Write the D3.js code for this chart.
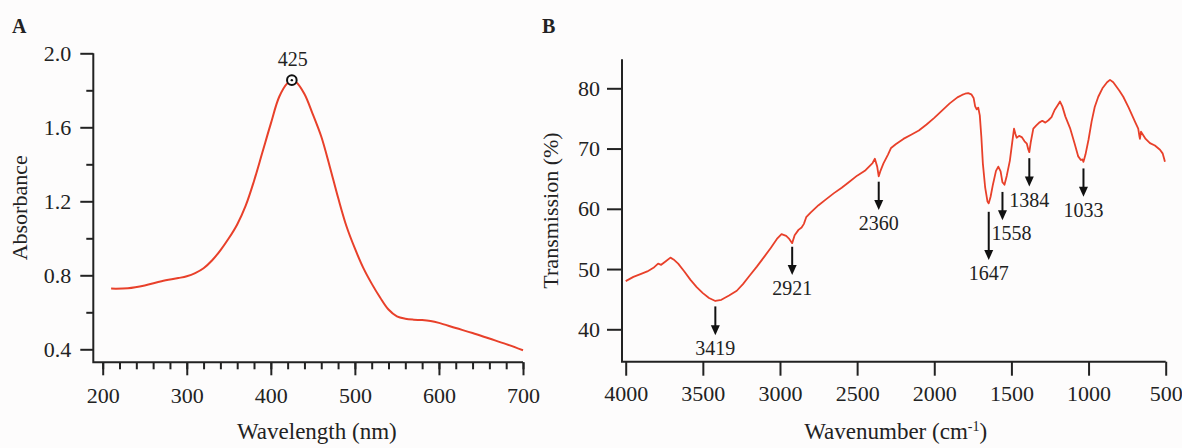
<!DOCTYPE html>
<html><head><meta charset="utf-8">
<script src="https://cdn.jsdelivr.net/npm/d3@7"></script>
<style>
body{margin:0;background:#fdfcfc}
svg{display:block}
text{font-family:"Liberation Serif","Times New Roman",serif;fill:#222}
</style>
</head><body><svg id="c" width="1182" height="448"></svg>
<script>
// ---------- Panel A: UV-Vis ----------
const uvWavelength = [210,230,250,270,290,300,310,320,330,340,350,360,370,380,390,400,410,420,425,430,440,450,460,470,480,490,500,510,520,530,540,550,560,570,580,590,600,620,640,660,680,700];
const uvAbsorbance = [0.728,0.730,0.745,0.768,0.785,0.795,0.812,0.838,0.880,0.935,1.000,1.075,1.175,1.310,1.465,1.620,1.765,1.840,1.855,1.845,1.780,1.670,1.550,1.390,1.220,1.065,0.945,0.840,0.755,0.680,0.615,0.578,0.565,0.560,0.558,0.553,0.543,0.515,0.488,0.458,0.428,0.395];
const uvPeak = {wavelength:425, absorbance:1.855, label:"425"};
const uvXTicks = [200,300,400,500,600,700];
const uvYTicks = [0.4,0.8,1.2,1.6,2.0];

// ---------- Panel B: FTIR ----------
const irWavenumber = [4000,3950,3900,3860,3820,3790,3770,3740,3710,3690,3660,3620,3580,3540,3500,3460,3419,3380,3330,3280,3240,3200,3150,3100,3060,3020,2990,2960,2940,2921,2905,2880,2860,2845,2830,2800,2750,2700,2650,2600,2550,2500,2450,2400,2385,2370,2360,2350,2330,2300,2280,2250,2200,2150,2100,2050,2000,1950,1900,1850,1820,1800,1780,1760,1745,1735,1725,1715,1705,1695,1685,1670,1655,1647,1635,1620,1600,1585,1570,1558,1545,1530,1510,1495,1483,1475,1466,1450,1433,1415,1400,1390,1384,1375,1358,1340,1320,1300,1280,1260,1240,1220,1200,1185,1170,1150,1120,1090,1067,1050,1040,1033,1020,1000,980,960,937,910,880,861,840,800,775,740,700,678,670,667,660,630,602,570,537,520,510,505];
const irTransmission = [48.0,48.7,49.2,49.6,50.2,50.9,50.7,51.3,51.9,51.6,50.9,49.6,48.2,47.0,46.0,45.2,44.7,44.9,45.6,46.4,47.5,48.8,50.4,52.1,53.5,55.0,55.8,55.5,55.0,54.3,55.6,56.5,56.9,57.5,58.6,59.4,60.6,61.6,62.6,63.5,64.5,65.5,66.3,67.6,68.3,67.0,65.4,66.2,67.5,69.0,70.1,70.7,71.6,72.3,73.0,74.0,75.1,76.3,77.5,78.5,78.9,79.1,79.2,79.0,78.4,77.0,76.5,76.8,75.5,72.0,67.5,63.5,61.2,60.9,62.0,64.0,66.3,67.0,66.2,64.4,64.0,65.5,68.0,71.0,73.3,72.5,71.8,72.1,71.9,71.2,70.8,69.8,69.4,71.0,73.3,73.8,74.3,74.6,74.3,74.7,75.2,76.4,77.2,77.8,77.0,75.3,73.4,70.8,68.7,68.1,68.2,67.8,69.0,71.5,74.5,76.9,78.6,80.0,81.0,81.4,81.0,79.6,78.6,76.8,74.5,73.3,72.0,71.6,72.8,71.6,70.9,70.5,69.8,69.2,68.3,67.8];
const irXTicks = [4000,3500,3000,2500,2000,1500,1000,500];
const irYTicks = [40,50,60,70,80];
// annotated bands: wavenumber, arrow start / end (transmission %)
const irBands     = [3419,2921,2360,1647,1558,1384,1033];
const irArrowFrom = [43.8,53.7,64.5,59.5,62.8,68.4,66.7];
const irArrowTo   = [39.0,49.0,59.8,51.5,58.1,63.7,62.0];

const svg = d3.select("#c");
svg.append("rect").attr("width",1182).attr("height",448).attr("fill","#fdfcfc");
const AX = "#222", LINE = "#e8402a";

function styleAxis(g){
  g.select(".domain").remove();
  g.selectAll(".tick line").attr("stroke",AX).attr("stroke-width",2);
  g.selectAll(".tick text").style("font-family",'"Liberation Serif",serif').style("font-size","22px").attr("fill","#222");
}

// ===== Panel A =====
const xA = d3.scaleLinear([200,700],[102.7,523]);
const yA = d3.scaleLinear([0.4,2.0],[349.3,53.3]);
const axA = 93.3, ayA = 362.3;
const gA = svg.append("g");
gA.append("g").attr("transform",`translate(0,${ayA})`)
  .call(d3.axisBottom(xA).tickValues(d3.range(200,701,20)).tickSize(7).tickFormat("")).call(styleAxis);
gA.append("g").attr("transform",`translate(0,${ayA})`)
  .call(d3.axisBottom(xA).tickValues(uvXTicks).tickSize(13).tickPadding(12).tickFormat(d3.format("d"))).call(styleAxis);
gA.append("g").attr("transform",`translate(${axA},0)`)
  .call(d3.axisLeft(yA).tickValues([0.6,1.0,1.4,1.8]).tickSize(7).tickFormat("")).call(styleAxis);
gA.append("g").attr("transform",`translate(${axA},0)`)
  .call(d3.axisLeft(yA).tickValues(uvYTicks).tickSize(13).tickPadding(9).tickFormat(d3.format(".1f"))).call(styleAxis);
gA.append("path").attr("d",`M${axA},${yA(2.0)}V${ayA}H${xA(700)}`).attr("fill","none").attr("stroke",AX).attr("stroke-width",2);

gA.append("path").datum(uvWavelength.map((w,i)=>[w,uvAbsorbance[i]]))
  .attr("fill","none").attr("stroke",LINE).attr("stroke-width",2)
  .attr("d",d3.line().x(d=>xA(d[0])).y(d=>yA(d[1])).curve(d3.curveCatmullRom.alpha(0.5)));

gA.append("circle").attr("cx",xA(uvPeak.wavelength)).attr("cy",yA(uvPeak.absorbance)).attr("r",4.8)
  .attr("fill","#fff").attr("stroke","#111").attr("stroke-width",2);
gA.append("circle").attr("cx",xA(uvPeak.wavelength)).attr("cy",yA(uvPeak.absorbance)).attr("r",1.2).attr("fill","#111");
gA.append("text").attr("x",xA(uvPeak.wavelength)+1).attr("y",yA(uvPeak.absorbance)-14)
  .attr("text-anchor","middle").style("font-size","20px").text(uvPeak.label);

gA.append("text").attr("transform",`translate(27,${(yA(2.0)+ayA)/2}) rotate(-90)`)
  .attr("text-anchor","middle").style("font-size","22px").text("Absorbance");
gA.append("text").attr("x",(xA(200)+xA(700))/2+4).attr("y",439).attr("text-anchor","middle")
  .style("font-size","23px").text("Wavelength (nm)");
gA.append("text").attr("x",12).attr("y",33).style("font-size","20px").style("font-weight","bold").text("A");

// ===== Panel B =====
const xB = d3.scaleLinear([4000,500],[625.7,1165.7]);
const yB = d3.scaleLinear([40,80],[329.3,88.3]);
const axB = 622, ayB = 361.7, topB = 59.3;
const gB = svg.append("g");
gB.append("g").attr("transform",`translate(0,${ayB})`)
  .call(d3.axisBottom(xB).tickValues(irXTicks).tickSize(14).tickPadding(10).tickFormat(d3.format("d"))).call(styleAxis);
gB.append("g").attr("transform",`translate(${axB},0)`)
  .call(d3.axisLeft(yB).tickValues(irYTicks).tickSize(15).tickPadding(7).tickFormat(d3.format("d"))).call(styleAxis);
gB.append("path").attr("d",`M${axB},${topB}V${ayB}H${xB(500)}`).attr("fill","none").attr("stroke",AX).attr("stroke-width",2);

gB.append("path").datum(irWavenumber.map((w,i)=>[w,irTransmission[i]]))
  .attr("fill","none").attr("stroke",LINE).attr("stroke-width",1.8).attr("stroke-linejoin","round")
  .attr("d",d3.line().x(d=>xB(d[0])).y(d=>yB(d[1])));

irBands.forEach((b,i)=>{
  const x = xB(b), y0 = yB(irArrowFrom[i]), y1 = yB(irArrowTo[i]);
  gB.append("line").attr("x1",x).attr("x2",x).attr("y1",y0).attr("y2",y1-8)
    .attr("stroke","#111").attr("stroke-width",2);
  gB.append("path").attr("d",`M${x-4.5},${y1-10}L${x+4.5},${y1-10}L${x},${y1}Z`).attr("fill","#111");
  gB.append("text").attr("x",x+(b===1558?9:0)).attr("y",y1+20).attr("text-anchor","middle")
    .style("font-size","20px").text(b);
});

gB.append("text").attr("transform",`translate(558,${(topB+ayB)/2}) rotate(-90)`)
  .attr("text-anchor","middle").style("font-size","22px").text("Transmission (%)");
const xt = gB.append("text").attr("x",(xB(4000)+xB(500))/2).attr("y",439).attr("text-anchor","middle").style("font-size","23px");
xt.append("tspan").text("Wavenumber (cm");
xt.append("tspan").attr("dy",-8).style("font-size","14px").text("-1");
xt.append("tspan").attr("dy",8).text(")");
gB.append("text").attr("x",542).attr("y",33).style("font-size","20px").style("font-weight","bold").text("B");
</script>
</body></html>
